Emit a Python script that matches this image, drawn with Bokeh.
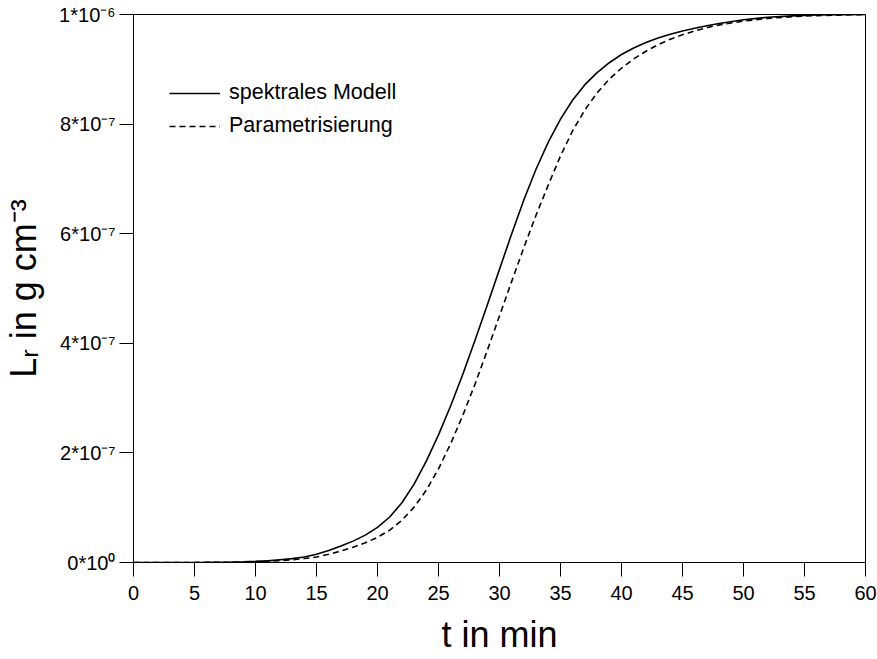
from bokeh.plotting import figure
from bokeh.models import Range1d, FixedTicker, Legend, LegendItem
from bokeh.embed import file_html
from bokeh.resources import INLINE

# time in minutes
t_min = [0, 2, 4, 6, 8, 9, 10, 11, 12, 13, 14, 15, 16, 17, 18, 19, 20, 21, 22, 23, 24, 25,
         26, 27, 28, 29, 30, 31, 32, 33, 34, 35, 36, 37, 38, 39, 40, 41, 42, 43, 44,
         45, 46, 47, 48, 50, 52, 54, 56, 58, 60]
# L_r in units of 1e-7 g cm^-3
spektral = [0, 0, 0, 0.003, 0.008, 0.013, 0.02, 0.03, 0.05, 0.07, 0.10, 0.15, 0.22, 0.30,
            0.39, 0.50, 0.64, 0.83, 1.09, 1.43, 1.85, 2.33, 2.86, 3.44, 4.06, 4.70, 5.35,
            6.00, 6.62, 7.18, 7.67, 8.09, 8.44, 8.72, 8.94, 9.12, 9.27, 9.39, 9.49, 9.57,
            9.64, 9.70, 9.75, 9.795, 9.835, 9.905, 9.95, 9.975, 9.99, 9.997, 10.0]
param = [0, 0, 0, 0.002, 0.005, 0.009, 0.015, 0.025, 0.035, 0.05, 0.072, 0.10, 0.15, 0.21,
         0.28, 0.36, 0.46, 0.59, 0.77, 1.01, 1.32, 1.71, 2.17, 2.69, 3.26, 3.87, 4.50,
         5.13, 5.75, 6.34, 6.89, 7.42, 7.88, 8.26, 8.57, 8.82, 9.02, 9.19, 9.33, 9.45,
         9.55, 9.63, 9.70, 9.76, 9.81, 9.88, 9.93, 9.96, 9.98, 9.99, 10.0]

x_ticks = list(range(0, 61, 5))
y_ticks = [0, 2, 4, 6, 8, 10]
y_tick_labels = ["0*10\u2070", "2*10\u207b\u2077", "4*10\u207b\u2077", "6*10\u207b\u2077",
                 "8*10\u207b\u2077", "1*10\u207b\u2076"]

FONT = "Liberation Sans"

p = figure(width=877, height=659, output_backend="svg", toolbar_location=None,
           x_range=Range1d(0, 60), y_range=Range1d(0, 10),
           min_border_left=128, min_border_right=12, min_border_top=14, min_border_bottom=97)
p.background_fill_color = "white"
p.border_fill_color = "white"
p.outline_line_color = "black"
p.outline_line_width = 1
p.grid.visible = False

r1 = p.line(t_min, spektral, line_color="black", line_width=1.6)
r2 = p.line(t_min, param, line_color="black", line_width=1.6, line_dash="6 4")

for ax in (p.xaxis[0], p.yaxis[0]):
    ax.axis_line_color = "black"
    ax.major_tick_line_color = "black"
    ax.major_tick_out = 14
    ax.major_tick_in = 0
    ax.minor_tick_line_color = None
    ax.major_label_text_font = FONT
    ax.major_label_text_font_size = "20px"
    ax.major_label_text_color = "black"
    ax.axis_label_text_font = FONT
    ax.axis_label_text_font_size = "36px"
    ax.axis_label_text_font_style = "normal"
    ax.axis_label_text_color = "black"

p.xaxis.ticker = FixedTicker(ticks=x_ticks)
p.xaxis.major_label_standoff = 9
p.xaxis.axis_label = "t in min"
p.xaxis.axis_label_standoff = 11

p.yaxis.ticker = FixedTicker(ticks=y_ticks)
p.yaxis.major_label_overrides = {k: v for k, v in zip(y_ticks, y_tick_labels)}
p.yaxis.major_label_standoff = 4
p.yaxis.axis_label = "L\u1d63 in g cm\u207b\u00b3"
p.yaxis.axis_label_standoff = 12

legend = Legend(items=[LegendItem(label="spektrales Modell", renderers=[r1]),
                       LegendItem(label="Parametrisierung", renderers=[r2])],
                location=(36, 424), padding=0, margin=0, spacing=8,
                glyph_width=51, glyph_height=20, label_height=20, label_standoff=9,
                border_line_color=None, background_fill_alpha=0,
                label_text_font=FONT, label_text_font_size="21.5px", label_text_color="black")
p.add_layout(legend)

open("out.html", "w").write(file_html(p, INLINE))
